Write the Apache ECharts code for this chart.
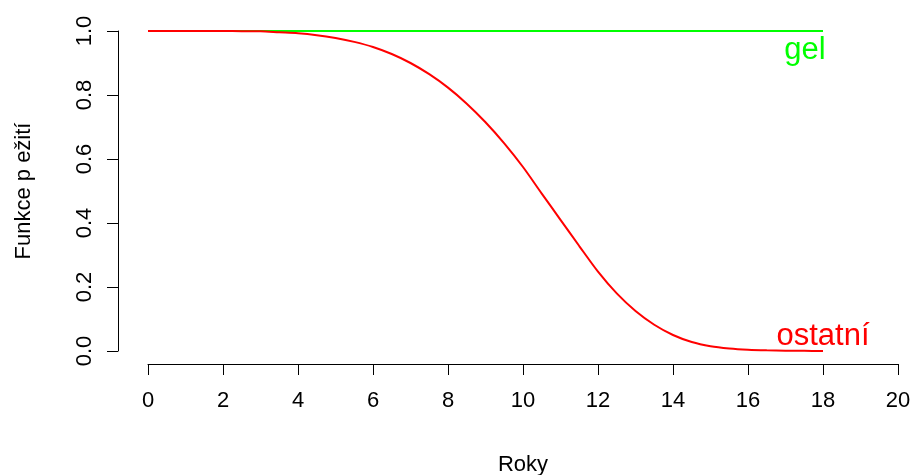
<!DOCTYPE html>
<html>
<head>
<meta charset="utf-8">
<script src="https://cdn.jsdelivr.net/npm/echarts@6/dist/echarts.min.js"></script>
<style>
html,body{margin:0;padding:0;background:#fff;}
#chart{width:914px;height:475px;}
</style>
</head>
<body>
<div id="chart"></div>
<script>
// Data
const gelX = [0, 18];
const gelY = [1, 1];
const ostX = [0, 0.5, 1, 1.5, 2, 2.5, 3, 3.5, 4, 4.5, 5, 5.5, 6, 6.5, 7, 7.5, 8, 8.5, 9, 9.5, 10, 10.5, 11, 11.5, 12, 12.5, 13, 13.5, 14, 14.5, 15, 15.5, 16, 16.5, 17, 17.5, 18];
const ostY = [1, 1, 1, 1, 0.9998, 0.9995, 0.999, 0.996, 0.993, 0.987, 0.978, 0.966, 0.950, 0.928, 0.900, 0.865, 0.823, 0.773, 0.715, 0.649, 0.575, 0.492, 0.410, 0.328, 0.248, 0.180, 0.125, 0.082, 0.050, 0.028, 0.015, 0.008, 0.004, 0.002, 0.001, 0.0005, 0];
const seriesNames = ['gel', 'ostatní'];
const xTitle = 'Roky';
const yTitle = 'Funkce p ežití';

const font = 'Liberation Sans, Arial, Helvetica, sans-serif';
const chart = echarts.init(document.getElementById('chart'), null, {renderer: 'canvas'});

const zip = (xs, ys) => xs.map((x, i) => [x, ys[i]]);

chart.setOption({
  animation: false,
  backgroundColor: '#ffffff',
  grid: {left: 148, right: 16, top: 31, bottom: 124, containLabel: false, outerBoundsMode: 'none'},
  xAxis: {
    type: 'value', min: 0, max: 20, interval: 2, offset: 13,
    name: xTitle, nameLocation: 'middle', nameGap: 90,
    nameTextStyle: {fontFamily: font, fontSize: 22, color: '#000'},
    axisLine: {show: true, onZero: false, lineStyle: {color: '#000', width: 1}},
    axisTick: {show: true, length: 11, lineStyle: {color: '#000'}},
    axisLabel: {fontFamily: font, fontSize: 22, color: '#000', margin: 26},
    splitLine: {show: false}
  },
  yAxis: {
    type: 'value', min: 0, max: 1, interval: 0.2, offset: 30,
    name: yTitle, nameLocation: 'middle', nameGap: 83, nameRotate: 90,
    nameTextStyle: {fontFamily: font, fontSize: 22, color: '#000'},
    axisLine: {show: true, onZero: false, lineStyle: {color: '#000', width: 1}},
    axisTick: {show: true, length: 11, lineStyle: {color: '#000'}},
    axisLabel: {fontFamily: font, fontSize: 22, color: '#000', margin: 22, rotate: 90,
      formatter: v => v.toFixed(1)},
    splitLine: {show: false}
  },
  series: [
    {
      name: seriesNames[0], type: 'line', data: zip(gelX, gelY), showSymbol: false,
      lineStyle: {color: '#00ff00', width: 2}, itemStyle: {color: '#00ff00'},
      markPoint: {
        symbol: 'circle', symbolSize: 0,
        data: [{coord: [gelX[1], gelY[1]]}],
        label: {show: true, formatter: seriesNames[0], position: 'inside', offset: [-18, 19],
          fontFamily: font, fontSize: 31, color: '#00ff00'}
      }
    },
    {
      name: seriesNames[1], type: 'line', data: zip(ostX, ostY), showSymbol: false, smooth: 0.3,
      lineStyle: {color: '#ff0000', width: 2}, itemStyle: {color: '#ff0000'},
      markPoint: {
        symbol: 'circle', symbolSize: 0,
        data: [{coord: [ostX[ostX.length - 1], ostY[ostY.length - 1]]}],
        label: {show: true, formatter: seriesNames[1], position: 'inside', offset: [0, -15],
          fontFamily: font, fontSize: 31, color: '#ff0000'}
      }
    }
  ]
});
</script>
</body>
</html>
